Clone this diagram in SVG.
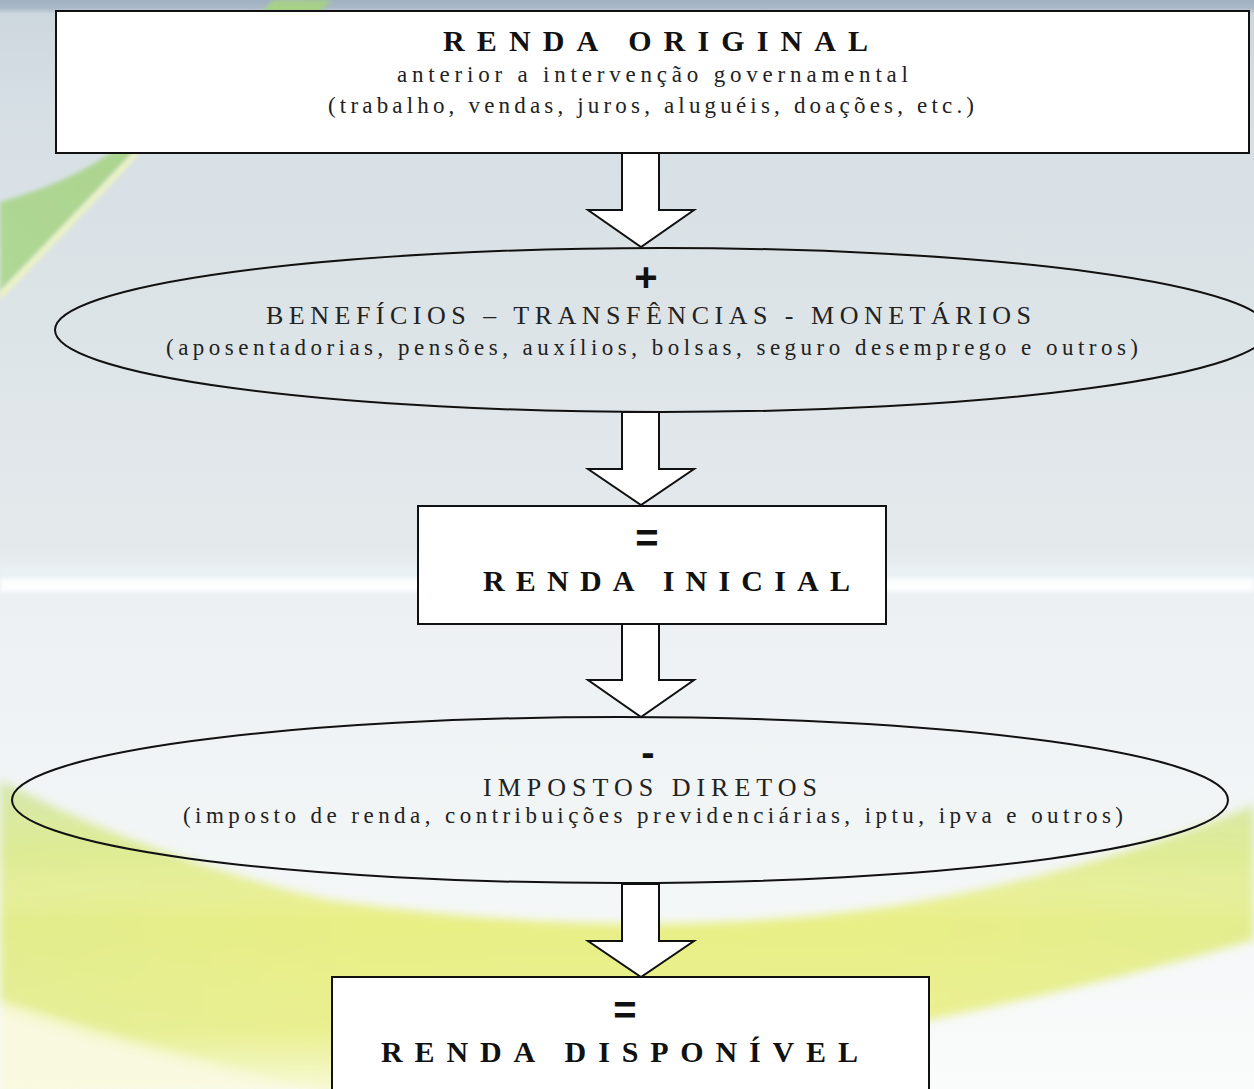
<svg xmlns="http://www.w3.org/2000/svg" width="1254" height="1089" viewBox="0 0 1254 1089">
  <defs>
    <style>
      .box { fill: #ffffff; stroke: #111111; stroke-width: 2; }
      .ell { fill: none; stroke: #111111; stroke-width: 2; }
      .arrow { fill: #ffffff; stroke: #111111; stroke-width: 2; stroke-linejoin: miter; }
      .title { font-family: "Liberation Serif", "DejaVu Serif", serif; font-weight: bold; font-size: 30px; fill: #111111; }
      .caps { font-family: "Liberation Serif", "DejaVu Serif", serif; font-size: 26px; fill: #222222; }
      .small { font-family: "Liberation Serif", "DejaVu Serif", serif; font-size: 23px; fill: #222222; }
      .op { font-family: "Liberation Sans", "DejaVu Sans", sans-serif; font-weight: bold; font-size: 40px; fill: #111111; text-anchor: middle; }
    </style>
    <linearGradient id="bg" x1="0" y1="0" x2="0" y2="1">
      <stop offset="0" stop-color="#9fb0c0"/>
      <stop offset="0.007" stop-color="#a9b8c6"/>
      <stop offset="0.013" stop-color="#cdd7de"/>
      <stop offset="0.1" stop-color="#d6dfe4"/>
      <stop offset="0.5" stop-color="#e4e9ec"/>
      <stop offset="0.53" stop-color="#e8eef1"/>
      <stop offset="0.55" stop-color="#ecf0f2"/>
      <stop offset="0.75" stop-color="#f1f5f6"/>
      <stop offset="1" stop-color="#fafbfb"/>
    </linearGradient>
    <linearGradient id="yel" x1="0" y1="0" x2="1" y2="0">
      <stop offset="0" stop-color="#e2ec8c"/>
      <stop offset="0.3" stop-color="#e8ef84"/>
      <stop offset="0.7" stop-color="#e8ef86"/>
      <stop offset="1" stop-color="#e3ed8e"/>
    </linearGradient>
    <linearGradient id="yelv" x1="0" y1="0" x2="0" y2="1">
      <stop offset="0" stop-color="#d3e6b4" stop-opacity="0.9"/>
      <stop offset="0.25" stop-color="#d8eaa0" stop-opacity="0.4"/>
      <stop offset="0.45" stop-color="#ffffff" stop-opacity="0"/>
      <stop offset="0.8" stop-color="#ffffff" stop-opacity="0.1"/>
      <stop offset="1" stop-color="#ffffff" stop-opacity="0.7"/>
    </linearGradient>
    <linearGradient id="grn" x1="0" y1="1" x2="1" y2="0">
      <stop offset="0" stop-color="#b0d895"/>
      <stop offset="1" stop-color="#a6d088"/>
    </linearGradient>
    <filter id="soft" x="-10%" y="-10%" width="120%" height="120%">
      <feGaussianBlur stdDeviation="5"/>
    </filter>
    <filter id="soft2" x="-10%" y="-10%" width="120%" height="120%">
      <feGaussianBlur stdDeviation="2"/>
    </filter>
  </defs>

  <g id="background">
    <rect x="0" y="0" width="1254" height="1089" fill="url(#bg)"/>
    <rect x="0" y="566" width="1254" height="12" fill="#eaf1f4" filter="url(#soft2)"/>
    <rect x="0" y="578" width="1254" height="14" fill="#fcfdfd" filter="url(#soft2)"/>
    <!-- top-left green swoosh -->
    <path d="M0,202 Q70,182 110,153 Q200,80 273,0 L333,0 Q230,90 133,153 Q60,230 0,292 Z" fill="url(#grn)" filter="url(#soft2)"/>
    <path d="M133,153 Q60,230 0,292 L0,300 Q62,236 140,153 Z" fill="#eef4c0" filter="url(#soft2)"/>
    <!-- bottom yellow swoosh -->
    <g filter="url(#soft)">
      <path d="M0,780 Q140,855 330,900 Q640,945 900,905 Q1100,870 1254,805 L1254,940 Q1100,985 930,1020 Q700,1080 330,1095 Q150,1060 0,1010 Z" fill="url(#yel)"/>
      <path d="M0,780 Q140,855 330,900 Q640,945 900,905 Q1100,870 1254,805 L1254,940 Q1100,985 930,1020 Q700,1080 330,1095 Q150,1060 0,1010 Z" fill="url(#yelv)"/>
      <path d="M0,1000 Q150,1050 330,1090 L0,1095 Z" fill="#f7f9d8" opacity="0.8"/>
    </g>
  </g>

  <g id="node-renda-original">
    <rect class="box" x="56" y="11" width="1193" height="142"/>
    <text class="title" x="443" y="51" textLength="425" lengthAdjust="spacing">RENDA ORIGINAL</text>
    <text class="small" x="397" y="82" textLength="511" lengthAdjust="spacing">anterior a intervenção governamental</text>
    <text class="small" x="328" y="113" textLength="646" lengthAdjust="spacing">(trabalho, vendas, juros, aluguéis, doações, etc.)</text>
  </g>

  <g id="node-beneficios">
    <ellipse class="ell" cx="662" cy="330" rx="607" ry="82"/>
    <text class="op" x="646" y="291">+</text>
    <text class="caps" x="266" y="324" textLength="765" lengthAdjust="spacing">BENEFÍCIOS – TRANSFÊNCIAS - MONETÁRIOS</text>
    <text class="small" x="166" y="355" textLength="972" lengthAdjust="spacing">(aposentadorias, pensões, auxílios, bolsas, seguro desemprego e outros)</text>
  </g>

  <g id="node-renda-inicial">
    <rect class="box" x="418" y="506" width="468" height="118"/>
    <text class="op" x="647" y="552">=</text>
    <text class="title" x="483" y="591" textLength="367" lengthAdjust="spacing">RENDA INICIAL</text>
  </g>

  <g id="node-impostos">
    <ellipse class="ell" cx="620" cy="800" rx="608" ry="83"/>
    <text class="op" x="648" y="766">-</text>
    <text class="caps" x="483" y="796" textLength="334" lengthAdjust="spacing">IMPOSTOS DIRETOS</text>
    <text class="small" x="183" y="823" textLength="940" lengthAdjust="spacing">(imposto de renda, contribuições previdenciárias, iptu, ipva e outros)</text>
  </g>

  <g id="node-renda-disponivel">
    <rect class="box" x="332" y="977" width="597" height="130"/>
    <text class="op" x="625" y="1024">=</text>
    <text class="title" x="381" y="1062" textLength="477" lengthAdjust="spacing">RENDA DISPONÍVEL</text>
  </g>

  <g id="connectors">
    <path class="arrow" d="M622,153 H659 V210 H694 L641,247 L588,210 H622 Z"/>
    <path class="arrow" d="M622,412 H659 V469 H694 L641,505 L588,469 H622 Z"/>
    <path class="arrow" d="M622,624 H659 V680 H694 L641,717 L588,680 H622 Z"/>
    <path class="arrow" d="M622,884 H659 V941 H694 L641,977 L588,941 H622 Z"/>
  </g>
</svg>
